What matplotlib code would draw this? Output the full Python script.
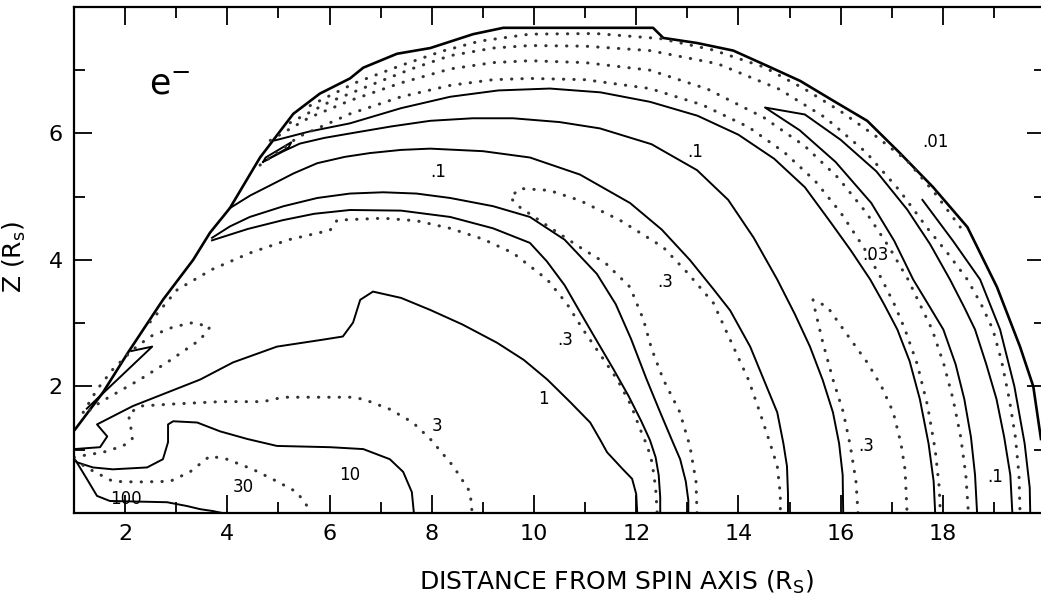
import numpy as np
import matplotlib.pyplot as plt

# ---- contour traces (x = distance from spin axis, z) ----
edge_x = [1.02, 1.57, 2.06, 2.74, 3.33, 3.66, 4.05, 4.64, 5.29, 5.81, 6.40, 6.66, 7.32, 7.97, 8.81, 9.40,
          12.33, 12.53, 13.19, 13.90, 14.56, 15.21, 15.85, 16.52, 17.16, 17.81, 18.48, 19.06, 19.51, 19.77, 19.92]
edge_z = [1.32, 1.91, 2.54, 3.37, 4.00, 4.43, 4.82, 5.62, 6.31, 6.63, 6.87, 7.04, 7.26, 7.35, 7.57, 7.67,
          7.67, 7.51, 7.43, 7.31, 7.07, 6.83, 6.52, 6.20, 5.69, 5.15, 4.52, 3.57, 2.63, 2.00, 1.17]

c100_x = [1.00, 1.04, 1.25, 1.45, 1.70, 2.82, 3.21, 3.47, 3.72, 3.90]
c100_z = [0.86, 0.82, 0.54, 0.27, 0.19, 0.17, 0.11, 0.06, 0.03, 0.0]

c30_x = [1.00, 1.06, 1.31, 1.76, 2.23, 2.88, 3.27, 3.66, 3.99, 4.50, 4.97, 5.36, 5.58, 5.64]
c30_z = [0.84, 0.81, 0.69, 0.50, 0.49, 0.50, 0.65, 0.90, 0.85, 0.69, 0.50, 0.33, 0.09, 0.0]

c10_x = [1.00, 1.06, 1.37, 1.76, 2.43, 2.74, 2.84, 2.84, 2.94, 3.41, 3.86, 4.39, 4.97, 6.01, 6.66, 7.18,
         7.44, 7.61, 7.65]
c10_z = [0.84, 0.80, 0.72, 0.69, 0.72, 0.85, 1.12, 1.40, 1.45, 1.43, 1.29, 1.17, 1.06, 1.04, 1.01, 0.85,
         0.65, 0.33, 0.0]

c3_x = [1.00, 1.12, 1.57, 1.96, 2.14, 2.10, 2.06, 2.29, 2.88, 3.86, 4.70, 5.09, 6.40, 6.66, 7.18, 7.63,
        7.97, 8.42, 8.75, 8.79]
c3_z = [0.88, 0.90, 0.96, 1.06, 1.17, 1.43, 1.56, 1.69, 1.72, 1.76, 1.76, 1.83, 1.83, 1.80, 1.64, 1.43,
        1.17, 0.74, 0.33, 0.0]

c1_x = [1.00, 1.51, 1.65, 1.45, 2.15, 3.47, 4.11, 4.97, 5.87, 6.26, 6.46, 6.60, 6.85, 7.40, 7.97, 8.60,
        9.28, 9.80, 10.26, 10.70, 11.10, 11.30, 11.43, 11.74, 11.92, 12.00, 12.02]
c1_z = [1.01, 1.04, 1.21, 1.40, 1.69, 2.11, 2.38, 2.63, 2.74, 2.79, 3.01, 3.37, 3.50, 3.40, 3.21, 2.98,
        2.69, 2.42, 2.11, 1.76, 1.43, 1.15, 0.96, 0.69, 0.54, 0.30, 0.0]

loop_x = [1.18, 1.45, 1.76, 2.15, 2.49, 2.94, 3.33, 3.66, 3.47, 2.82, 2.29, 1.51, 1.25]
loop_z = [1.59, 1.95, 2.27, 2.58, 2.79, 2.94, 3.01, 2.94, 2.74, 2.38, 2.11, 1.75, 1.59]

wedge_x = [1.25, 2.53, 2.12]
wedge_z = [1.65, 2.63, 2.56]

d0_x = [2.49, 3.02, 3.70, 4.44, 5.20, 6.01, 6.15, 7.05, 7.70, 8.36, 9.00, 9.59, 10.26, 10.65, 10.96, 11.30,
        11.63, 11.90, 12.08, 12.22, 12.31, 12.38, 12.41]
d0_z = [3.02, 3.53, 3.85, 4.11, 4.32, 4.47, 4.63, 4.66, 4.62, 4.50, 4.33, 4.11, 3.69, 3.30, 2.90, 2.50,
        2.11, 1.70, 1.32, 1.05, 0.80, 0.40, 0.0]

l4_x = [3.70, 4.40, 5.09, 5.70, 6.40, 7.40, 8.36, 9.20, 9.92, 10.25, 10.60, 10.92, 11.23, 11.55, 11.85,
        12.10, 12.27, 12.38, 12.44, 12.47, 12.47]
l4_z = [4.31, 4.49, 4.63, 4.73, 4.79, 4.78, 4.68, 4.50, 4.27, 3.98, 3.60, 3.15, 2.72, 2.28, 1.85,
        1.45, 1.15, 0.88, 0.60, 0.25, 0.0]

l3_x = [3.70, 4.05, 4.44, 5.10, 5.76, 6.40, 7.05, 7.70, 8.36, 9.20, 9.92, 10.60, 11.23, 11.60, 11.90,
        12.20, 12.47, 12.70, 12.86, 12.97, 13.02, 13.02]
l3_z = [4.35, 4.53, 4.68, 4.85, 4.98, 5.05, 5.07, 5.05, 4.98, 4.85, 4.68, 4.32, 3.78, 3.30, 2.75,
        2.12, 1.59, 1.15, 0.85, 0.50, 0.20, 0.0]

u1_x = [13.19, 13.17, 13.05, 12.85, 12.53, 12.30, 12.14, 11.88, 11.40, 10.90, 10.30, 9.73, 9.53, 9.73,
        10.30, 10.90, 11.70, 12.53, 13.00, 13.51, 13.90, 14.20, 14.42, 14.62, 14.76, 14.82, 14.82]
u1_z = [0.0, 0.50, 1.06, 1.60, 2.11, 2.60, 3.06, 3.57, 3.95, 4.20, 4.52, 4.83, 4.99, 5.13,
        5.10, 4.94, 4.62, 4.20, 3.80, 3.32, 2.63, 2.10, 1.59, 1.10, 0.74, 0.30, 0.0]

l2_x = [4.05, 4.45, 4.84, 5.30, 5.76, 6.30, 6.79, 7.40, 7.97, 9.00, 9.92, 10.90, 11.88, 12.50, 13.05,
        13.50, 13.84, 14.23, 14.50, 14.76, 14.88, 14.95, 14.97, 14.97]
l2_z = [4.82, 5.02, 5.18, 5.37, 5.53, 5.63, 5.69, 5.74, 5.76, 5.72, 5.62, 5.35, 4.90, 4.48, 4.00,
        3.55, 3.20, 2.63, 2.10, 1.59, 1.10, 0.74, 0.30, 0.0]

t2_x = [4.74, 5.10, 5.42, 5.90, 6.40, 7.20, 7.97, 8.80, 9.59, 10.50, 11.29, 12.30, 13.19, 13.80, 14.30,
        14.76, 15.10, 15.40, 15.65, 15.85, 15.97, 16.04, 16.05]
t2_z = [5.57, 5.72, 5.84, 5.93, 6.00, 6.11, 6.20, 6.24, 6.24, 6.18, 6.08, 5.83, 5.42, 4.95, 4.35,
        3.69, 3.15, 2.63, 2.10, 1.59, 1.10, 0.60, 0.0]

u2_x = [16.34, 16.30, 16.19, 16.05, 15.85, 15.65, 15.50, 15.46, 15.74, 16.10, 16.52, 16.80, 17.03, 17.18,
        17.26, 17.30]
u2_z = [0.0, 0.50, 1.06, 1.60, 2.11, 2.70, 3.21, 3.37, 3.26, 2.85, 2.38, 2.00, 1.59, 1.10, 0.69, 0.0]

t1_x = [4.93, 5.60, 6.40, 7.40, 8.36, 9.30, 10.31, 11.30, 12.27, 13.20, 14.00, 14.70, 15.30, 15.80, 16.20,
        16.58, 16.85, 17.11, 17.35, 17.55, 17.72, 17.82, 17.85]
t1_z = [5.89, 6.03, 6.16, 6.40, 6.58, 6.68, 6.71, 6.65, 6.50, 6.28, 5.98, 5.60, 5.15, 4.60, 4.15,
        3.69, 3.30, 2.90, 2.40, 1.80, 1.10, 0.50, 0.0]

tongue_x = [18.67, 18.63, 18.55, 18.42, 18.25, 18.01, 17.75, 17.42, 17.05, 16.60, 15.90, 15.20, 14.52,
            15.30, 16.00, 16.70, 17.30, 17.75, 18.14, 18.42, 18.63, 18.85, 19.05, 19.20, 19.32, 19.36]
tongue_z = [0.0, 0.60, 1.20, 1.80, 2.35, 2.90, 3.25, 3.69, 4.30, 4.90, 5.55, 6.05, 6.41,
            6.30, 5.90, 5.40, 4.80, 4.25, 3.69, 3.25, 2.90, 2.35, 1.80, 1.20, 0.60, 0.0]

g_x = [17.60, 18.20, 18.73, 19.12, 19.40, 19.60, 19.70, 19.71]
g_z = [4.95, 4.30, 3.69, 2.90, 2.00, 1.10, 0.40, 0.0]

small_x = [4.70, 5.20, 5.25, 4.75, 4.70]
small_z = [5.55, 5.78, 5.86, 5.62, 5.55]

d1_x = [4.64, 5.40, 6.40, 7.40, 8.36, 9.20, 9.92, 11.00, 12.27, 13.30, 14.20, 14.90, 15.50, 16.00, 16.45,
        16.81, 17.05, 17.26, 17.50, 17.70, 17.85, 17.93, 17.95]
d1_z = [5.50, 5.95, 6.31, 6.58, 6.76, 6.85, 6.87, 6.85, 6.71, 6.45, 6.10, 5.70, 5.25, 4.75, 4.20,
        3.69, 3.30, 2.90, 2.35, 1.70, 1.00, 0.40, 0.0]
d2_x = [4.84, 5.60, 6.40, 7.40, 8.36, 9.20, 9.92, 11.00, 12.27, 13.40, 14.50, 15.30, 15.95, 16.50, 16.95,
        17.32, 17.58, 17.79, 18.02, 18.20, 18.35, 18.45, 18.50]
d2_z = [5.89, 6.25, 6.52, 6.80, 7.02, 7.12, 7.15, 7.12, 7.00, 6.70, 6.25, 5.80, 5.30, 4.75, 4.20,
        3.69, 3.25, 2.90, 2.35, 1.80, 1.20, 0.60, 0.0]
d3_x = [5.23, 6.00, 6.79, 7.60, 8.36, 9.20, 9.92, 11.00, 12.27, 13.60, 14.80, 15.70, 16.50, 17.15, 17.70,
        18.10, 18.48, 18.75, 18.98, 19.15, 19.30, 19.42, 19.49, 19.51]
d3_z = [6.17, 6.50, 6.76, 7.02, 7.23, 7.35, 7.39, 7.38, 7.31, 7.10, 6.70, 6.25, 5.70, 5.10, 4.50,
        4.10, 3.69, 3.30, 2.90, 2.40, 1.80, 1.20, 0.60, 0.0]
d4_x = [5.62, 6.50, 7.38, 8.20, 8.94, 9.92, 11.20, 12.47, 13.50, 14.50, 15.30, 16.00, 16.70, 17.30, 17.85,
        18.34]
d4_z = [6.44, 6.80, 7.07, 7.30, 7.46, 7.57, 7.58, 7.50, 7.32, 7.05, 6.70, 6.35, 5.95, 5.57, 5.05,
        4.52]

solid_lines = [(c100_x, c100_z), (c10_x, c10_z), (c1_x, c1_z), (wedge_x, wedge_z), (l4_x, l4_z),
               (l3_x, l3_z), (l2_x, l2_z), (t2_x, t2_z), (t1_x, t1_z), (tongue_x, tongue_z),
               (g_x, g_z), (small_x, small_z)]
dotted_lines = [(c30_x, c30_z), (c3_x, c3_z), (loop_x, loop_z), (d0_x, d0_z), (u1_x, u1_z),
                (u2_x, u2_z), (d1_x, d1_z), (d2_x, d2_z), (d3_x, d3_z), (d4_x, d4_z)]

label_text = ['100', '30', '10', '3', '1', '.3', '.3', '.1', '.1', '.3', '.03', '.01', '.1']
label_x = [2.02, 4.31, 6.40, 8.10, 10.18, 10.61, 12.57, 8.12, 13.15, 16.50, 16.68, 17.85, 19.02]
label_z = [0.22, 0.41, 0.60, 1.37, 1.80, 2.74, 3.65, 5.39, 5.70, 1.06, 4.08, 5.86, 0.57]

fig = plt.figure(figsize=(10.41, 5.94), dpi=100)
ax = fig.add_axes([0.0711, 0.1364, 0.9328, 0.8519])

ax.plot(edge_x, edge_z, color='k', lw=1.9)
for xs, zs in solid_lines:
    ax.plot(xs, zs, color='k', lw=1.4)
for xs, zs in dotted_lines:
    ax.plot(xs, zs, color='#333333', lw=2.2, linestyle=(0, (0.1, 3.3)), dash_capstyle='round')

for t, x, z in zip(label_text, label_x, label_z):
    ax.text(x, z, t, fontsize=12, ha='center', va='center')
ax.text(2.88, 6.76, 'e$^{-}$', fontsize=25, ha='center', va='center')

ax.set_xlim(1, 20)
ax.set_ylim(0, 8)
ax.set_xticks(range(2, 19, 2))
ax.set_xticks(range(1, 21), minor=True)
ax.set_yticks([2, 4, 6])
ax.set_yticks(range(0, 8), minor=True)
ax.tick_params(which='both', direction='in', top=True, right=True, width=1.3, labelsize=16)
ax.tick_params(which='major', length=13, pad=8)
ax.tick_params(which='minor', length=8)
for s in ax.spines.values():
    s.set_linewidth(1.6)

ax.set_xlabel('DISTANCE FROM SPIN AXIS (R$_\\mathrm{S}$)', fontsize=18)
ax.xaxis.set_label_coords(0.559, -0.11)
ax.set_ylabel('Z (R$_\\mathrm{s}$)', fontsize=18)
ax.yaxis.set_label_coords(-0.047, 0.506)

plt.savefig('out.png', dpi=100)
